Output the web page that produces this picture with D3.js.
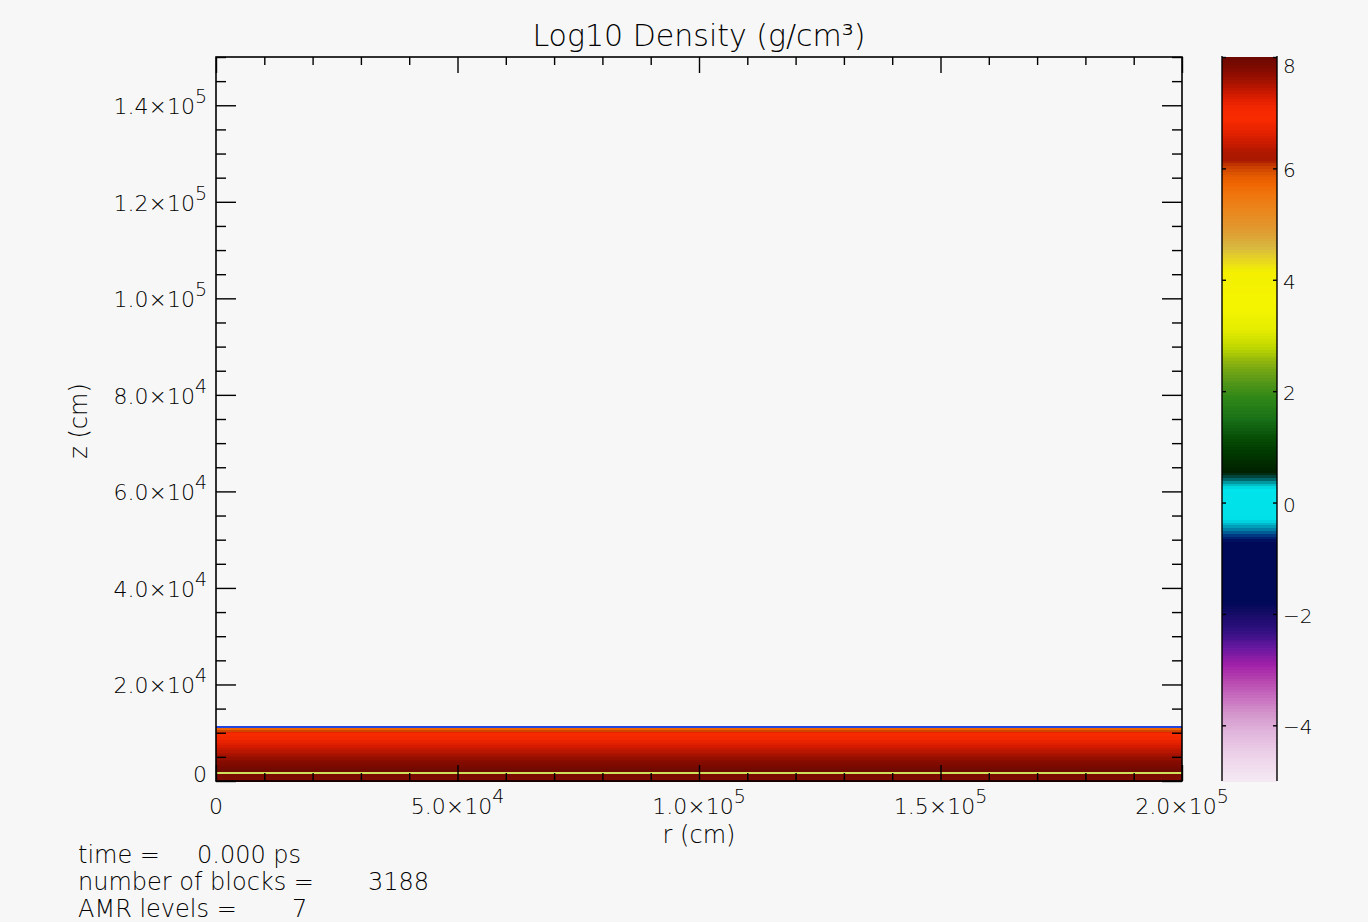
<!DOCTYPE html>
<html>
<head>
<meta charset="utf-8">
<script src="https://cdn.jsdelivr.net/npm/d3@7"></script>
<style>
  html, body { margin: 0; padding: 0; background: #f7f7f7; }
  svg { display: block; font-family: "DejaVu Sans", sans-serif; font-weight: 200; }
  text { fill: #000; }
</style>
</head>
<body>
<svg id="chart" width="1368" height="922"></svg>
<script>
// Log10 density profile (uniform in r): layer edges in z (cm), log10(rho) per layer, bottom to top
const layerEdgesZ = [0, 500, 1000, 1500, 2000, 2500, 3000, 3500, 4000, 4500, 5000, 5500,
                     6000, 6500, 7000, 7500, 8000, 8500, 9000, 9500, 10000, 10300, 10600, 11000];
const layerLogRho = [7.83, 7.84, 7.86, 7.96, 7.95, 7.9, 7.85, 7.8, 7.74, 7.67, 7.6, 7.53,
                     7.46, 7.39, 7.32, 7.25, 7.18, 7.11, 7.05, 6.95, 6.7, 6.0, 5.75];

// Contour lines drawn across the slab (z in cm)
const contourZ = [11130, 1600];
const contourColors = ["#2444e0", "#cfe05a"];

// Colour table: log10 density stops and their colours
const cmapValues = [-5.0, -4.5, -4.1, -3.8, -3.5, -3.2, -2.9, -2.6, -2.3, -2.0, -1.8, -0.7, -0.6, -0.45,
                    -0.3, 0.25, 0.35, 0.45, 0.55, 0.9, 1.2, 1.5, 1.9, 2.2, 2.5, 2.8, 3.1, 3.5,
                    4.15, 4.35, 4.6, 4.9, 5.2, 5.5, 5.75, 5.9, 6.05, 6.15, 6.3, 6.5, 6.7, 6.9,
                    7.1, 7.3, 7.5, 7.75, 8.0];
const cmapColors = ["#f4eaf4", "#ecd0e8", "#e0b4dc", "#d498cc", "#c870c0", "#b848b0", "#a020a8", "#6818a0",
                    "#301080", "#180c68", "#000858", "#000858", "#002878", "#0090b0",
                    "#00e0e8", "#00e4ec", "#00b0b8", "#005050", "#002000", "#003800", "#085008", "#187018",
                    "#308818", "#589818", "#88b010", "#c0d800", "#e4ec00", "#f4f400",
                    "#f4f000", "#e8d820", "#d8b840", "#e09a30", "#e88a20", "#f07810", "#f06400", "#e05800",
                    "#c83c00", "#a81800", "#b01800", "#d01c00", "#e82400", "#f82a00",
                    "#f42800", "#d81c00", "#b01400", "#880c00", "#6a0800"];

// Axis ticks
const xMajorTicks = [0, 50000, 100000, 150000, 200000];
const yMajorTicks = [0, 20000, 40000, 60000, 80000, 100000, 120000, 140000];
const cbTicks = [-4, -2, 0, 2, 4, 6, 8];

// Text
const titleText = "Log10 Density (g/cm³)";
const xTitle = "r (cm)";
const yTitle = "z (cm)";
const infoLabels = ["time =", "number of blocks =", "AMR levels ="];
const infoValues = ["0.000 ps", "3188", "7"];

// ---- layout ----
const svg = d3.select("#chart");
const X0 = 216, X1 = 1182, Y0 = 57, Y1 = 781;
const CB0 = 1222, CB1 = 1277;

const x = d3.scaleLinear().domain([0, 200000]).range([X0, X1]);
const y = d3.scaleLinear().domain([0, 150000]).range([Y1, Y0]);
const cb = d3.scaleLinear().domain([-5, 8]).range([Y1, Y0]);
const color = d3.scaleLinear().domain(cmapValues).range(cmapColors).clamp(true);

// ---- density slab ----
const layers = layerLogRho.map((v, i) => ({ z0: layerEdgesZ[i], z1: layerEdgesZ[i + 1], v }));
svg.append("g")
  .selectAll("rect")
  .data(layers)
  .join("rect")
  .attr("x", x(0))
  .attr("width", x(200000) - x(0))
  .attr("y", d => y(d.z1))
  .attr("height", d => y(d.z0) - y(d.z1) + 0.5)
  .attr("fill", d => color(d.v))
  .attr("shape-rendering", "crispEdges");

// contour lines
svg.append("g")
  .selectAll("line")
  .data(contourZ)
  .join("line")
  .attr("x1", x(0)).attr("x2", x(200000))
  .attr("y1", d => Math.round(y(d))).attr("y2", d => Math.round(y(d)))
  .attr("stroke", (d, i) => contourColors[i])
  .attr("stroke-width", 2);

// ---- axes (box style, ticks pointing inward) ----
const xMinor = d3.range(0, 200001, 10000).filter(v => !xMajorTicks.includes(v));
const yMinor = d3.range(0, 150001, 5000).filter(v => !yMajorTicks.includes(v));

function tickAxis(axis, tx, ty) {
  const g = svg.append("g").attr("transform", `translate(${tx},${ty})`).call(axis);
  g.select(".domain").remove();
  g.selectAll("line").attr("stroke", "#000").attr("stroke-width", 1.4);
  g.selectAll("text").remove();
  return g;
}
// left / right
tickAxis(d3.axisRight(y).tickValues(yMajorTicks).tickSize(20).tickFormat(""), X0, 0);
tickAxis(d3.axisRight(y).tickValues(yMinor).tickSize(10).tickFormat(""), X0, 0);
tickAxis(d3.axisLeft(y).tickValues(yMajorTicks).tickSize(20).tickFormat(""), X1, 0);
tickAxis(d3.axisLeft(y).tickValues(yMinor).tickSize(10).tickFormat(""), X1, 0);
// top / bottom
tickAxis(d3.axisBottom(x).tickValues(xMajorTicks).tickSize(16).tickFormat(""), 0, Y0);
tickAxis(d3.axisBottom(x).tickValues(xMinor).tickSize(8).tickFormat(""), 0, Y0);
tickAxis(d3.axisTop(x).tickValues(xMajorTicks).tickSize(16).tickFormat(""), 0, Y1);
tickAxis(d3.axisTop(x).tickValues(xMinor).tickSize(8).tickFormat(""), 0, Y1);

// frame
svg.append("rect")
  .attr("x", X0).attr("y", Y0)
  .attr("width", X1 - X0).attr("height", Y1 - Y0)
  .attr("fill", "none").attr("stroke", "#000").attr("stroke-width", 1.6);

// scientific tick labels: mantissa×10 with raised exponent
function sciParts(v) {
  if (v === 0) return ["0", null];
  const [m, e] = d3.format(".1e")(v).split("e");
  return [m + "×10", String(+e)];
}
function sciLabel(sel) {
  sel.each(function (d) {
    const [main, exp] = sciParts(d);
    const t = d3.select(this);
    t.append("tspan").text(main);
    if (exp) t.append("tspan").attr("dy", -11).attr("font-size", 19).text(exp);
  });
}

svg.append("g")
  .selectAll("text")
  .data(yMajorTicks)
  .join("text")
  .attr("x", X0 - 9)
  .attr("y", d => d === 0 ? y(d) + 1 : y(d) + 9)
  .attr("text-anchor", "end")
  .attr("font-size", 22)
  .call(sciLabel);

svg.append("g")
  .selectAll("text")
  .data(xMajorTicks)
  .join("text")
  .attr("x", d => x(d))
  .attr("y", 814)
  .attr("text-anchor", "middle")
  .attr("font-size", 22)
  .call(sciLabel);

// axis titles
svg.append("text")
  .attr("x", (X0 + X1) / 2).attr("y", 843)
  .attr("text-anchor", "middle").attr("font-size", 24)
  .text(xTitle);
svg.append("text")
  .attr("transform", `translate(87,${(Y0 + Y1) / 2 + 2}) rotate(-90)`)
  .attr("text-anchor", "middle").attr("font-size", 24)
  .text(yTitle);

// title
svg.append("text")
  .attr("x", (X0 + X1) / 2).attr("y", 46)
  .attr("text-anchor", "middle").attr("font-size", 30)
  .text(titleText);

// ---- colour bar ----
const step = 0.05;
const cbSteps = d3.range(-5, 8 - step / 2, step);
svg.append("g")
  .selectAll("rect")
  .data(cbSteps)
  .join("rect")
  .attr("x", CB0)
  .attr("width", CB1 - CB0)
  .attr("y", d => cb(d + step))
  .attr("height", d => cb(d) - cb(d + step) + 0.6)
  .attr("fill", d => color(d + step / 2))
  .attr("shape-rendering", "crispEdges");

svg.append("g")
  .selectAll("line")
  .data([CB0, CB1])
  .join("line")
  .attr("x1", d => d).attr("x2", d => d)
  .attr("y1", Y0 - 1).attr("y2", Y1)
  .attr("stroke", "#000").attr("stroke-width", 1.4);

tickAxis(d3.axisRight(cb).tickValues(cbTicks).tickSize(4).tickFormat(""), CB0, 0);
tickAxis(d3.axisLeft(cb).tickValues(cbTicks).tickSize(4).tickFormat(""), CB1, 0);

svg.append("g")
  .selectAll("text")
  .data(cbTicks)
  .join("text")
  .attr("x", CB1 + 6)
  .attr("y", d => Math.max(cb(d) + 9, 73))
  .attr("font-size", 20)
  .text(d => d < 0 ? "−" + Math.abs(d) : String(d));

// ---- run information ----
const info = svg.append("g").attr("font-size", 24);
const valueX = [197, 368, 292];
infoLabels.forEach((lab, i) => {
  info.append("text").attr("x", 78).attr("y", 863 + i * 27).text(lab);
  info.append("text").attr("x", valueX[i]).attr("y", 863 + i * 27).text(infoValues[i]);
});
</script>
</body>
</html>
